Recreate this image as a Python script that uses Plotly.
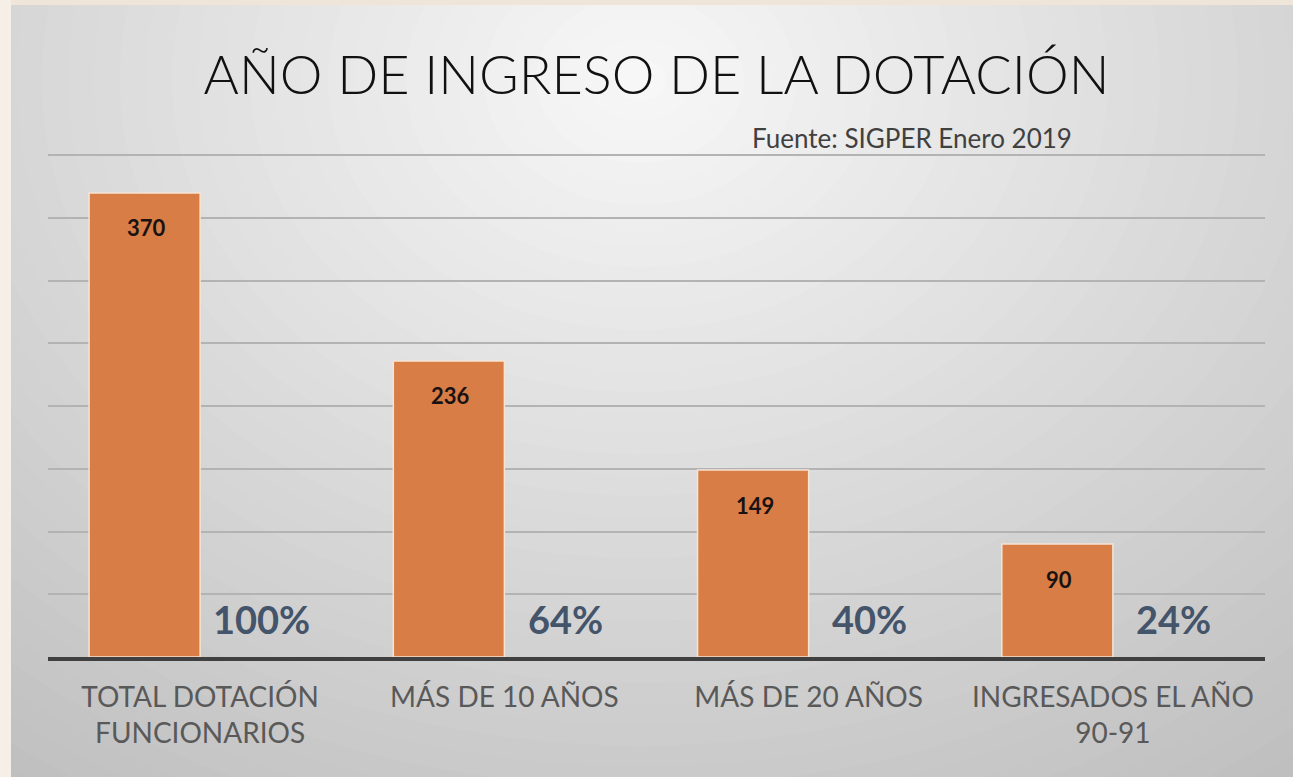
import plotly.graph_objects as go

# ---- data ----
categories = ["TOTAL DOTACIÓN<br>FUNCIONARIOS", "MÁS DE 10 AÑOS", "MÁS DE 20 AÑOS", "INGRESADOS EL AÑO<br>90-91"]
values = [370, 236, 149, 90]
percent_labels = ["100%", "64%", "40%", "24%"]
title_text = "AÑO DE INGRESO DE LA DOTACIÓN"
source_text = "Fuente: SIGPER Enero 2019"

W, H = 1293, 777
ML, MR, MT, MB = 48, 28, 149, 120
PW = W - ML - MR
PH = H - MT - MB


def px_x(px):
    return (px - ML) / PW


def px_y(py):
    return (H - MB - py) / PH


FONT = "Lato, 'Open Sans', sans-serif"

fig = go.Figure()
fig.add_trace(go.Bar(
    x=categories, y=values,
    width=0.365, offset=-0.365,
    marker=dict(color="#D77D45", line=dict(color="#F6E3D3", width=1.5)),
    hoverinfo="x+y",
    showlegend=False,
))

annotations = []
for cat, v, p in zip(categories, values, percent_labels):
    annotations.append(dict(x=cat, y=v, xref="x", yref="y", text=str(v), showarrow=False,
                            xshift=-54, yshift=-35, yanchor="middle",
                            font=dict(family=FONT, size=22, color="#1a1212", weight="bold")))
    annotations.append(dict(x=cat, y=0, xref="x", yref="y", text=p, showarrow=False,
                            xshift=61, yshift=38, yanchor="middle",
                            font=dict(family=FONT, size=38, color="#44546A", weight="bold")))
annotations.append(dict(x=px_x(912), y=px_y(138), xref="paper", yref="paper", text=source_text,
                        showarrow=False, xanchor="center", yanchor="middle",
                        font=dict(family=FONT, size=26, color="#404040")))

# background panel with radial-like gradient
shapes = []
cx, cy, rx, ry = 640, 80, 900, 720
N = 45
dmax = 1.3
shapes.append(dict(type="rect", xref="paper", yref="paper", layer="below",
                   x0=px_x(11), x1=px_x(W), y0=px_y(5), y1=px_y(H),
                   fillcolor="rgb(190,190,190)", line=dict(width=0)))
for k in range(N, 0, -1):
    d = dmax * k / N
    c = int(round(248 - 47 * d))
    shapes.append(dict(type="circle", xref="paper", yref="paper", layer="below",
                       x0=px_x(cx - d * rx), x1=px_x(cx + d * rx),
                       y0=px_y(cy - d * ry), y1=px_y(cy + d * ry),
                       fillcolor=f"rgb({c},{c},{c})", line=dict(width=0)))
# beige margins outside the panel
shapes.append(dict(type="rect", xref="paper", yref="paper", layer="below",
                   x0=px_x(-50), x1=px_x(W + 50), y0=px_y(-50), y1=px_y(5),
                   fillcolor="#EFE6D9", line=dict(width=0)))
shapes.append(dict(type="rect", xref="paper", yref="paper", layer="below",
                   x0=px_x(-50), x1=px_x(11), y0=px_y(-50), y1=px_y(H + 50),
                   fillcolor="#F5EFE7", line=dict(width=0)))

fig.update_layout(
    width=W, height=H,
    margin=dict(l=ML, r=MR, t=MT, b=MB, pad=0),
    paper_bgcolor="#EFE6D9",
    plot_bgcolor="rgba(0,0,0,0)",
    title=dict(text=title_text, x=0.5, xref="paper", xanchor="center",
               y=1 - 75 / H, yref="container", yanchor="middle",
               font=dict(family=FONT, size=54, color="#111111", weight=300)),
    bargap=0.27,
    showlegend=False,
    annotations=annotations,
    shapes=shapes,
    xaxis=dict(showline=True, linecolor="#404040", linewidth=4, ticks="",
               tickfont=dict(family=FONT, size=28, color="#595959"),
               ticklabelstandoff=12,
               showgrid=False, fixedrange=True),
    yaxis=dict(range=[0, 405], dtick=50, showgrid=True, gridcolor="#B3B3B3", gridwidth=2,
               showticklabels=False, zeroline=False, fixedrange=True),
)

fig.write_html("out.html", config={"displayModeBar": False},
               post_script="document.body.style.margin='0px';")
